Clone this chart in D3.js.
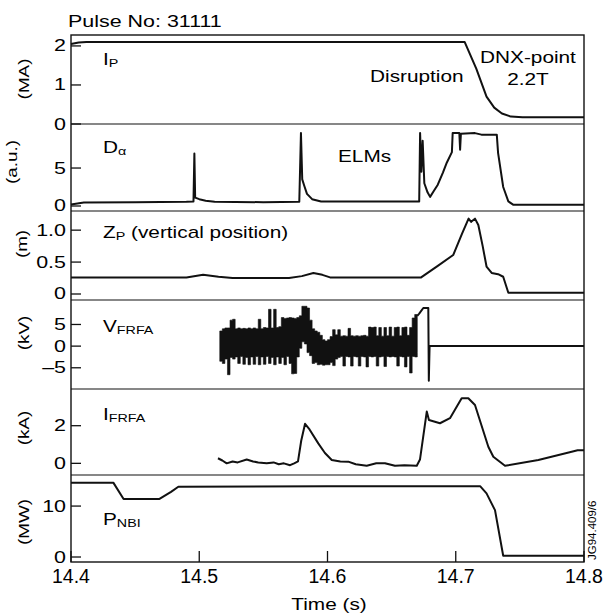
<!DOCTYPE html>
<html lang="en">
<head>
<meta charset="UTF-8">
<title>Pulse No: 31111</title>
<script src="https://d3js.org/d3.v7.min.js"></script>
<style>
  body { margin: 0; background: #fff; }
  svg { display: block; font-family: "Liberation Sans", Arial, Helvetica, sans-serif; fill: #000; }
  .trace { fill: none; stroke: #111; stroke-width: 2; stroke-linejoin: round; }
  .noise { fill: #111; stroke: #111; stroke-width: 0.6; }
  .frame { fill: none; stroke: #111; stroke-width: 1.4; }
  .sep { stroke: #111; stroke-width: 1.2; }
  .tick { stroke: #111; stroke-width: 1.3; }
</style>
</head>
<body>
<svg width="610" height="616"></svg>
<script>
// ---- data ----
const ipT = [14.400, 14.406, 14.412, 14.707, 14.716, 14.724, 14.730, 14.736, 14.743, 14.752, 14.800];
const ipV = [2.05, 2.09, 2.10, 2.10, 1.42, 0.70, 0.42, 0.27, 0.19, 0.17, 0.17];

const daT = [14.400, 14.410, 14.450, 14.490, 14.4955, 14.4962, 14.4968, 14.500, 14.505, 14.512, 14.550,
             14.578, 14.5793, 14.5803, 14.582, 14.584, 14.588, 14.595, 14.640, 14.6715,
             14.6722, 14.6732, 14.6742, 14.6755, 14.678, 14.680, 14.683, 14.686, 14.690, 14.693,
             14.697, 14.6976, 14.7028, 14.7034, 14.7040, 14.715, 14.720, 14.732, 14.733,
             14.737, 14.741, 14.745, 14.800];
const daV = [0.20, 0.45, 0.50, 0.55, 0.60, 6.90, 1.10, 0.90, 0.70, 0.55, 0.50,
             0.55, 9.60, 3.50, 2.60, 1.60, 0.90, 0.60, 0.60, 0.60,
             9.60, 4.50, 8.60, 3.00, 1.80, 1.20, 2.00, 2.80, 4.40, 5.70,
             7.10, 9.60, 9.60, 7.40, 9.50, 9.60, 9.40, 9.40, 7.00,
             2.50, 0.60, 0.15, 0.15];

const zpT = [14.400, 14.450, 14.490, 14.503, 14.515, 14.526, 14.570, 14.580, 14.589, 14.596, 14.602,
             14.673, 14.686, 14.698, 14.705, 14.710, 14.712, 14.715, 14.7176, 14.721, 14.724,
             14.728, 14.733, 14.737, 14.741, 14.800];
const zpV = [0.26, 0.26, 0.26, 0.30, 0.27, 0.25, 0.25, 0.28, 0.33, 0.30, 0.26,
             0.26, 0.44, 0.61, 0.95, 1.18, 1.13, 1.18, 1.08, 0.75, 0.43,
             0.33, 0.31, 0.27, 0.02, 0.02];

// V_FRFA: min / max envelope of the noisy signal, one pair per sample
const vfT  = [14.516, 14.518, 14.520, 14.522, 14.524, 14.526, 14.528, 14.530, 14.532, 14.534,
              14.536, 14.538, 14.540, 14.542, 14.544, 14.546, 14.548, 14.550, 14.552, 14.554,
              14.556, 14.558, 14.560, 14.562, 14.564, 14.566, 14.568, 14.570, 14.572, 14.574,
              14.576, 14.578, 14.580, 14.582, 14.584, 14.586, 14.588, 14.590, 14.592, 14.594,
              14.596, 14.598, 14.600, 14.602, 14.604, 14.606, 14.608, 14.610, 14.612, 14.614,
              14.616, 14.618, 14.620, 14.622, 14.624, 14.626, 14.628, 14.630, 14.632, 14.634,
              14.636, 14.638, 14.640, 14.642, 14.644, 14.646, 14.648, 14.650, 14.652, 14.654,
              14.656, 14.658, 14.660, 14.662, 14.664, 14.666, 14.668, 14.670];
const vfHi = [3.5, 4.0, 4.2, 4.2, 6.0, 6.2, 4.0, 4.2, 4.0, 4.1,
              4.0, 4.2, 4.0, 4.2, 4.0, 6.2, 4.0, 4.3, 4.2, 8.5,
              4.2, 8.5, 4.3, 4.5, 6.6, 6.4, 6.5, 6.6, 6.5, 6.4,
              6.6, 7.0, 9.2, 9.2, 8.8, 6.0, 4.0, 3.5, 3.2, 2.5,
              1.5, 1.2, 1.5, 2.2, 3.8, 2.6, 3.8, 2.3, 2.4, 2.3,
              4.1, 2.4, 2.3, 2.4, 2.3, 2.4, 2.5, 2.3, 4.4, 4.3,
              4.4, 2.4, 4.3, 2.3, 4.3, 2.4, 4.4, 2.3, 4.3, 4.4,
              2.4, 4.3, 4.4, 2.5, 4.3, 6.5, 7.3, 6.6];
const vfLo = [-3.5, -4.0, -3.0, -6.6, -2.6, -3.0, -2.5, -4.0, -2.4, -4.2,
              -2.6, -4.3, -2.5, -4.2, -2.4, -4.3, -2.5, -4.2, -2.4, -4.0,
              -2.6, -4.3, -2.5, -4.0, -2.6, -4.3, -2.4, -4.0, -6.4, -6.3,
              -2.5, -0.5, 1.0, 0.5, -1.5, -2.2, -4.0, -3.8, -4.3, -4.2,
              -4.4, -4.3, -4.3, -3.8, -4.5, -3.0, -2.6, -2.4, -4.6, -2.4,
              -2.5, -4.6, -2.4, -2.5, -4.6, -2.4, -2.5, -4.8, -2.4, -2.5,
              -2.4, -4.6, -2.5, -2.4, -4.7, -2.4, -2.5, -2.4, -2.5, -4.6,
              -2.4, -2.5, -4.8, -2.4, -6.2, -2.4, -2.5, -1.5];
// V_FRFA after the noisy part: ramp, drop and zero
const vfEndT = [14.670, 14.6715, 14.6747, 14.6786, 14.6790, 14.6796, 14.800];
const vfEndV = [7.0, 7.5, 8.8, 8.8, -8.0, 0.0, 0.0];

const ifT = [14.5146, 14.518, 14.5214, 14.526, 14.530, 14.537, 14.542, 14.546, 14.5526, 14.558,
             14.562, 14.566, 14.5708, 14.574, 14.577, 14.5795, 14.5825, 14.586, 14.5928, 14.598,
             14.6033, 14.610, 14.6162, 14.622, 14.6306, 14.638, 14.6448, 14.6526, 14.660, 14.6696,
             14.6721, 14.6774, 14.6791, 14.6877, 14.6955, 14.7046, 14.7098, 14.715, 14.7254, 14.7293,
             14.7384, 14.7644, 14.7904, 14.795, 14.800];
const ifV = [0.27, 0.15, 0.00, 0.10, 0.05, 0.20, 0.10, 0.05, 0.00, 0.05,
             -0.05, 0.00, -0.10, 0.00, 0.10, 1.20, 2.10, 1.80, 1.06, 0.55,
             0.18, 0.10, 0.09, -0.05, -0.13, 0.00, 0.00, -0.13, -0.10, -0.13,
             0.20, 2.75, 2.30, 2.13, 2.40, 3.46, 3.46, 3.10, 0.88, 0.35,
             -0.13, 0.18, 0.62, 0.70, 0.70];

const pnT = [14.400, 14.433, 14.441, 14.469, 14.478, 14.4837, 14.600, 14.719, 14.724, 14.7306, 14.737, 14.800];
const pnV = [14.6, 14.6, 11.4, 11.4, 12.8, 13.8, 13.9, 13.9, 12.5, 9.2, 0.25, 0.25];

const xTicks = [14.4, 14.5, 14.6, 14.7, 14.8];

// ---- layout ----
const svg = d3.select("svg");
const x = d3.scaleLinear().domain([14.4, 14.8]).range([71, 584]);
const SX = 1.3; // the lettering in the scan is wide, stretch it sideways

const panels = [
  { top: 35,  bottom: 124, dom: [0, 2.28],      ticks: [0, 1, 2],      fmt: d => d,  unit: "(MA)",   uy: 79,  ux: 29 },
  { top: 124, bottom: 211, dom: [-0.66, 10.8],  ticks: [0, 5],         fmt: d => d,  unit: "(a.u.)", uy: 162, ux: 17 },
  { top: 211, bottom: 300, dom: [-0.094, 1.30], ticks: [0, 0.5, 1.0],  fmt: d => d === 0 ? "0" : d.toFixed(1), unit: "(m)", uy: 244, ux: 27 },
  { top: 300, bottom: 389, dom: [-9.9, 10.65],  ticks: [-5, 0, 5],     fmt: d => d < 0 ? "\u2013" + (-d) : d, unit: "(kV)", uy: 333, ux: 29 },
  { top: 389, bottom: 475, dom: [-0.62, 3.95],  ticks: [0, 2],         fmt: d => d,  unit: "(kA)",   uy: 428, ux: 29 },
  { top: 475, bottom: 562, dom: [-0.98, 16.1],  ticks: [0, 10],        fmt: d => d,  unit: "(MW)",   uy: 522, ux: 29 }
];
panels.forEach(p => { p.y = d3.scaleLinear().domain(p.dom).range([p.bottom, p.top]); });

// text drawn with a sideways stretch
function label(px, py, size, str, anchor, rot) {
  return svg.append("text")
    .attr("transform", `translate(${px},${py})${rot ? " rotate(-90)" : ""} scale(${SX},1)`)
    .attr("font-size", size)
    .attr("text-anchor", anchor || "start")
    .text(str);
}

// frame + separators
svg.append("rect").attr("class", "frame")
  .attr("x", 71).attr("y", 35).attr("width", 513).attr("height", 527);
panels.slice(1).forEach(p => {
  svg.append("line").attr("class", "sep")
    .attr("x1", 71).attr("x2", 584).attr("y1", p.top).attr("y2", p.top);
});

// y ticks, labels, units
panels.forEach(p => {
  p.ticks.forEach(t => {
    svg.append("line").attr("class", "tick")
      .attr("x1", 71).attr("x2", 81).attr("y1", p.y(t)).attr("y2", p.y(t));
    label(66, p.y(t) + 5.5, 16.5, p.fmt(t), "end");
  });
  label(p.ux, p.uy, 14.5, p.unit, "middle", true);
});

// x axis ticks and labels
xTicks.forEach(t => {
  svg.append("line").attr("class", "tick")
    .attr("x1", x(t)).attr("x2", x(t)).attr("y1", 562).attr("y2", 551);
  svg.append("text").attr("font-size", 19.5).attr("text-anchor", "middle")
    .attr("x", x(t)).attr("y", 583).text(t.toFixed(1));
});
label(329, 610, 16, "Time (s)", "middle");

// ---- traces ----
function trace(ts, vs, p) {
  const line = d3.line().x(d => x(d[0])).y(d => p.y(d[1]));
  svg.append("path").attr("class", "trace")
    .attr("d", line(ts.map((t, i) => [t, vs[i]])));
}
trace(ipT, ipV, panels[0]);
trace(daT, daV, panels[1]);
trace(zpT, zpV, panels[2]);

// noisy V_FRFA drawn as its min/max band
const vArea = d3.area().curve(d3.curveStepAfter)
  .x(d => x(d[0])).y0(d => panels[3].y(d[2])).y1(d => panels[3].y(d[1]));
svg.append("path").attr("class", "noise")
  .attr("d", vArea(vfT.map((t, i) => [t, vfHi[i], vfLo[i]])));
trace(vfEndT, vfEndV, panels[3]);

trace(ifT, ifV, panels[4]);
trace(pnT, pnV, panels[5]);

// ---- labels ----
function name(px, py, main, sub, rest) {
  const t = label(px, py, 16, "");
  t.append("tspan").text(main);
  t.append("tspan").attr("font-size", 11).attr("dy", 2).text(sub);
  if (rest) t.append("tspan").attr("dy", -2).text(rest);
}
name(103, 65, "I", "P");
name(103, 153, "D", "\u03b1");
name(103, 238, "Z", "P", " (vertical position)");
name(103, 332, "V", "FRFA");
name(103, 420, "I", "FRFA");
name(103, 525, "P", "NBI");

label(68, 27, 16.5, "Pulse No: 31111");
label(338, 162, 16, "ELMs");
label(370, 82, 16, "Disruption");
label(480, 63, 16, "DNX-point");
label(528, 85, 16, "2.2T", "middle");
svg.append("text").attr("font-size", 11.5)
  .attr("transform", "translate(596,560) rotate(-90)").text("JG94.409/6");
</script>
</body>
</html>
